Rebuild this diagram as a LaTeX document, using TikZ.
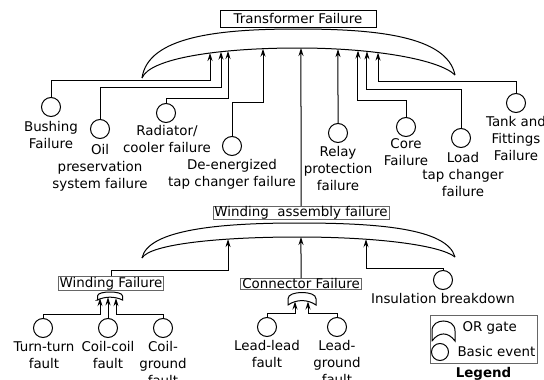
\documentclass[tikz,border=0pt]{standalone}
\usepackage{fontspec}
\setmainfont{DejaVu Sans}
\usetikzlibrary{positioning,arrows.meta,intersections}

\begin{document}
\begin{tikzpicture}[x=1pt,y=-1pt,line width=1pt,
  font=\fontsize{13.4}{17}\selectfont,
  >={Stealth[length=8pt,width=5pt]},
  ev/.style={draw,circle,minimum size=19pt,inner sep=0pt},
  lbl/.style={align=center,inner sep=1pt},
  gbox/.style={draw=black!60,line width=0.8pt,inner xsep=1.5pt,inner ysep=0.3pt},
  orgate/.pic={\draw (-1,0) -- (-1,-0.5) .. controls (-1,-0.85) and (-0.5,-1) .. (0,-1)
     .. controls (0.5,-1) and (1,-0.85) .. (1,-0.5) -- (1,0)
     .. controls (0.4,-0.47) and (-0.4,-0.47) .. cycle;}]
 \useasboundingbox (0,0) rectangle (544,380);

 % top event and its OR gate
 \node[draw,minimum width=156pt,minimum height=17pt,inner sep=1pt] (top) at (298,18.5) {Transformer Failure};
 \draw (142,78) .. controls (148,36) and (220,29) .. (298,29) .. controls (376,29) and (447,36) .. (455,75);
 \draw[name path=tin] (142,78) .. controls (150,58) and (220,48) .. (298,48) .. controls (376,48) and (440,60) .. (455,75);
 \foreach \x/\n in {210/a1,221/a2,228/a3,263/a4,301/a5,338/a6,358/a7,367/a8,378/a9}{
   \path[name path=v] (\x,0) -- (\x,120);
   \path[name intersections={of=tin and v}] (intersection-1) coordinate (\n);
 }

 % basic events, first level
 \node[ev] (bush) at (51,107) {};
 \node[ev] (oil) at (100,129) {};
 \node[ev] (rad) at (166,113) {};
 \node[ev] (deen) at (232,146) {};
 \node[ev] (relay) at (338,133) {};
 \node[ev] (core) at (406,127) {};
 \node[ev] (load) at (461,138) {};
 \node[ev] (tank) at (516,103) {};
 \node[lbl,below=3pt of bush] (bushL) {Bushing\\Failure};
 \node[lbl,below=4pt of oil] (oilL) {Oil\\preservation\\system failure};
 \node[lbl,below=1pt of rad,xshift=1pt] (radL) {Radiator/\\cooler failure};
 \node[lbl,below=2pt of deen] (deenL) {De-energized\\tap changer failure};
 \node[lbl,below=2pt of relay] (relayL) {Relay\\protection\\failure};
 \node[lbl,below=0pt of core] (coreL) {Core\\Failure};
 \node[lbl,below=3pt of load,xshift=2pt] (loadL) {Load\\tap changer\\failure};
 \node[lbl,below=2pt of tank] (tankL) {Tank and\\Fittings\\Failure};

 \node[gbox] (wa) at (301,213) {Winding\ \ assembly failure};

 \draw[->] (bush) |- (a1 |- 0,80) -- (a1);
 \draw[->] (oil) |- (a2 |- 0,87) -- (a2);
 \draw[->] (rad) |- (a3 |- 0,98) -- (a3);
 \draw[->] (deen) |- (a4 |- 0,102) -- (a4);
 \draw[->] (wa) -- (a5);
 \draw[->] (relay) -- (a6);
 \draw[->] (core) |- (a7 |- 0,100) -- (a7);
 \draw[->] (load) |- (a8 |- 0,89) -- (a8);
 \draw[->] (tank) |- (a9 |- 0,81) -- (a9);

 % winding assembly OR gate
 \draw (142,258) .. controls (148,229.5) and (220,223) .. (298,223) .. controls (376,223) and (447,228) .. (455,257);
 \draw[name path=win] (142,258) .. controls (150,244) and (220,237) .. (298,237) .. controls (376,237) and (440,245) .. (455,257);
 \foreach \x/\n in {228/b1,301/b2,366/b3}{
   \path[name path=v] (\x,220) -- (\x,270);
   \path[name intersections={of=win and v}] (intersection-1) coordinate (\n);
 }

 \node[gbox] (wf) at (111,283.5) {Winding Failure};
 \node[gbox] (cf) at (301,284) {Connector Failure};
 \node[ev] (ins) at (443,280) {};
 \node[lbl,below=2pt of ins] (insL) {Insulation breakdown};
 \draw[->] (wf) |- (b1 |- 0,270) -- (b1);
 \draw[->] (cf) -- (b2);
 \draw[->] (ins) |- (b3 |- 0,268) -- (b3);

 % winding failure
 \pic[xscale=12.5,yscale=8] at (110,300) {orgate};
 \coordinate (w1) at (100,298.2);
 \coordinate (w2) at (108,297.3);
 \coordinate (w3) at (116,298.2);
 \node[ev] (tt) at (43,328) {};
 \node[ev] (cc) at (108,328) {};
 \node[ev] (cg) at (163,328) {};
 \node[lbl,below=2pt of tt,xshift=1pt] (ttL) {Turn-turn\\fault};
 \node[lbl,below=2pt of cc] (ccL) {Coil-coil\\fault};
 \node[lbl,below=2pt of cg] (cgL) {Coil-\\ground\\fault};
 \draw[->] (tt) |- (w1 |- 0,314) -- (w1);
 \draw[->] (cc) -- (w2);
 \draw[->] (cg) |- (w3 |- 0,314) -- (w3);

 % connector failure
 \pic[xscale=14,yscale=12.5] at (302,305) {orgate};
 \coordinate (c1) at (295,301.5);
 \coordinate (c2) at (308,301.5);
 \node[ev] (ll) at (267,327) {};
 \node[ev] (lg) at (337,327) {};
 \node[lbl,below=2pt of ll] (llL) {Lead-lead\\fault};
 \node[lbl,below=2pt of lg] (lgL) {Lead-\\ground\\fault};
 \draw[->] (ll) |- (c1 |- 0,313) -- (c1);
 \draw[->] (lg) |- (c2 |- 0,313) -- (c2);

 % legend
 \node[draw=black!60,line width=0.8pt,minimum width=107pt,minimum height=48pt,inner sep=0pt] (leg) at (483.5,339) {};
 \pic[xscale=11.5,yscale=20] at (443.5,341) {orgate};
 \node[anchor=west,inner sep=1pt] (legor) at (461,328) {OR gate};
 \node[ev,minimum size=17pt] (legev) at (440,352) {};
 \node[anchor=west,inner sep=1pt,right=7pt of legev] (legevT) {Basic event};
 \node[inner sep=1pt,below=2pt of leg,font=\fontsize{13.4}{17}\selectfont\bfseries] (legT) {Legend};
\end{tikzpicture}
\end{document}
